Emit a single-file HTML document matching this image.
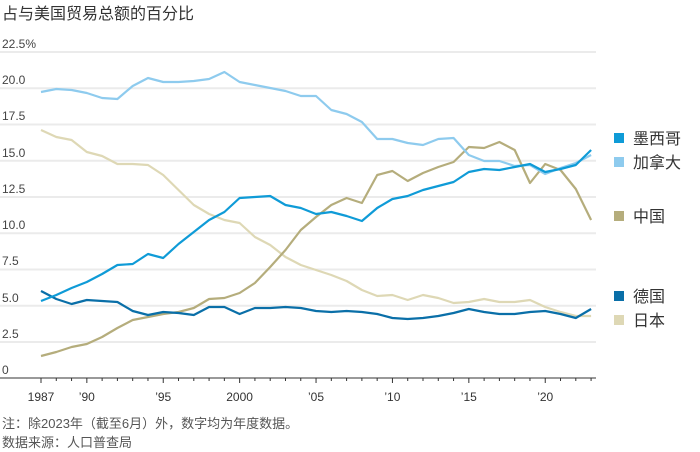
<!DOCTYPE html>
<html><head><meta charset="utf-8"><style>
body{margin:0;background:#fff;width:700px;height:452px;overflow:hidden;font-family:"Liberation Sans","Noto Sans CJK SC",sans-serif}
svg{display:block}
</style></head><body>
<svg id="s" width="700" height="452" xmlns="http://www.w3.org/2000/svg" font-family="Liberation Sans, Noto Sans CJK SC, sans-serif">
<text x="2" y="19" font-size="16" fill="#333">占与美国贸易总额的百分比</text>
<g stroke="#ebebeb" stroke-width="2">
<line x1="0" x2="596" y1="52" y2="52"/><line x1="0" x2="596" y1="88.3" y2="88.3"/><line x1="0" x2="596" y1="124.5" y2="124.5"/><line x1="0" x2="596" y1="160.8" y2="160.8"/><line x1="0" x2="596" y1="197" y2="197"/><line x1="0" x2="596" y1="233.3" y2="233.3"/><line x1="0" x2="596" y1="269.5" y2="269.5"/><line x1="0" x2="596" y1="305.8" y2="305.8"/><line x1="0" x2="596" y1="342" y2="342"/>
</g>
<g font-size="12" fill="#444">
<text x="2" y="48">22.5%</text><text x="2" y="84">20.0</text><text x="2" y="120">17.5</text><text x="2" y="157">15.0</text><text x="2" y="193">12.5</text><text x="2" y="229">10.0</text><text x="2" y="265">7.5</text><text x="2" y="302">5.0</text><text x="2" y="338">2.5</text><text x="2" y="374">0</text>
</g>
<line x1="0" x2="596" y1="378" y2="378" stroke="#333" stroke-width="1"/>
<g id="ticks" stroke="#333" stroke-width="1"></g>
<g font-size="12" fill="#333" text-anchor="middle">
<text x="41" y="401">1987</text><text x="86.8" y="401">’90</text><text x="163.2" y="401">’95</text><text x="239.6" y="401">2000</text><text x="316" y="401">’05</text><text x="392.4" y="401">’10</text><text x="468.8" y="401">’15</text><text x="545.2" y="401">’20</text>
</g>
<g id="lines" fill="none" stroke-width="2.2" stroke-linejoin="round"></g>
<g font-size="16" fill="#333">
<rect x="614" y="133" width="10" height="10" fill="#0f9bd7"/><text x="633" y="144">墨西哥</text>
<rect x="614" y="157" width="10" height="10" fill="#8ecbee"/><text x="633" y="168">加拿大</text>
<rect x="614" y="211" width="10" height="10" fill="#b5ad7c"/><text x="633" y="222">中国</text>
<rect x="614" y="291" width="10" height="10" fill="#0a6fa8"/><text x="633" y="302">德国</text>
<rect x="614" y="315" width="10" height="10" fill="#ded8b5"/><text x="633" y="326">日本</text>
</g>
<g font-size="13" fill="#555">
<text x="2" y="428">注：除2023年（截至6月）外，数字均为年度数据。</text>
<text x="2" y="447">数据来源：人口普查局</text>
</g>
</svg>
<script>
var X=function(i){return 41+15.28*i};
var t='';for(var i=0;i<=36;i++){var y=1987+i;var lab=(y%5==0)||y==1987;t+='<line x1="'+X(i)+'" x2="'+X(i)+'" y1="378" y2="'+(lab?383:381)+'"/>';}
document.getElementById('ticks').innerHTML=t;
var S=[
["#ded8b5",[130,137,140,152,156,164,164,165,175,190,205,214,220,223,237,245,257,265,270,275,281,290,296,295,300,295,298,303,302,299,302,302,300,307,312,316,316]],
["#b5ad7c",[356,352,347,344,337,328,320,317,314,312,308,299,298,293,283,267,250,230,217,205,198,203,175,171,181,173,167,162,147,148,142,150,183,164,170,189,220]],
["#0a6fa8",[291,299,304,300,301,302,311,315,312,313,315,307,307,314,308,308,307,308,311,312,311,312,314,318,319,318,316,313,309,312,314,314,312,311,314,318,309]],
["#8ecbee",[92,89,90,93,98,99,86,78,82,82,81,79,72,82,85,88,91,96,96,110,114,122,139,139,143,145,139,138,155,161,161,166,165,174,168,163,155]],
["#0f9bd7",[301,295,288,282,274,265,264,254,258,244,232,220,212,198,197,196,205,208,214,212,216,221,208,199,196,190,186,182,172,169,170,167,164,172,169,165,150]]
];
var h='';S.forEach(function(s){h+='<polyline stroke="'+s[0]+'" points="'+s[1].map(function(v,i){return X(i).toFixed(1)+','+v}).join(' ')+'"/>';});
document.getElementById('lines').innerHTML=h;
</script>
</body></html>
